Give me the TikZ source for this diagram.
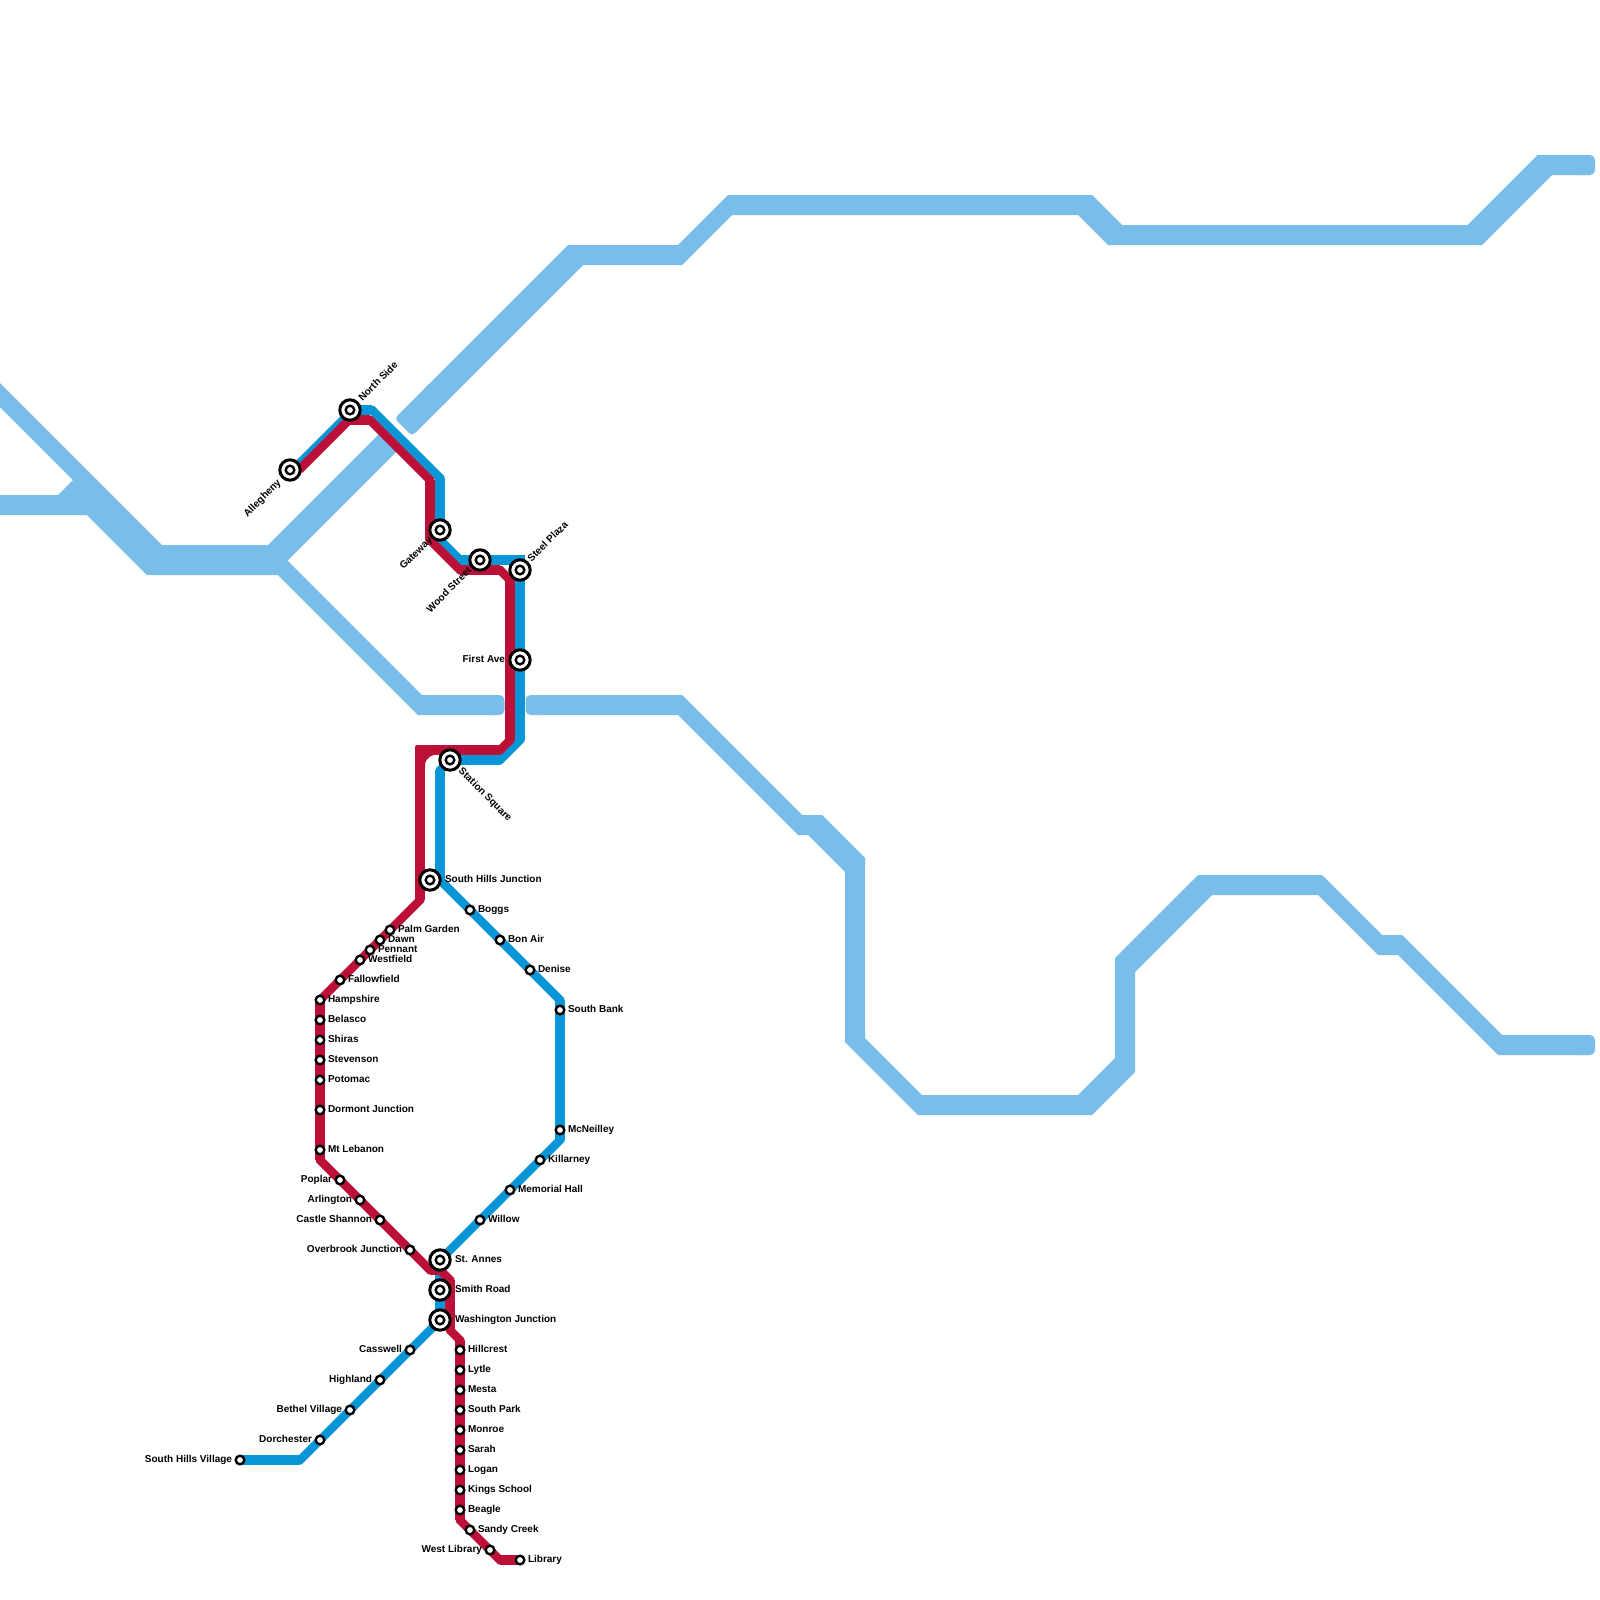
\documentclass[tikz,border=0pt]{standalone}
\usepackage{fontspec}
\setmainfont{Liberation Sans}
\definecolor{riverc}{HTML}{79BDE9}
\definecolor{mapblue}{HTML}{0896D7}
\definecolor{mapred}{HTML}{BD1038}
\pgfdeclarelayer{bg}
\pgfsetlayers{bg,main}
\tikzset{
  stn/.style={circle,draw=black,fill=white,line width=2.4pt,minimum size=8.6pt,inner sep=0pt,outer sep=0pt},
  bigstn/.style={circle,draw=black,fill=white,line width=3pt,minimum size=20.4pt,inner sep=0pt,outer sep=0pt,
    path picture={\draw[black,line width=2.4pt] (path picture bounding box.center) circle (4.3pt);}},
  lbl/.style={font=\bfseries\fontsize{10}{12}\selectfont,text=black,inner sep=0pt,outer sep=0pt},
  lblr/.style={lbl,anchor=base west},
  lbll/.style={lbl,anchor=base east},
  rivfill/.style={fill=riverc},
  bluedg/.style={draw=mapblue,line width=8.5pt,line join=miter,line cap=butt},
  bluehv/.style={draw=mapblue,line width=10pt,line join=miter,line cap=butt},
  reddg/.style={draw=mapred,line width=8.5pt,line join=miter,line cap=butt},
  redhv/.style={draw=mapred,line width=10pt,line join=miter,line cap=butt},
}
\begin{document}
\begin{tikzpicture}[x=1pt,y=-1pt]
\useasboundingbox (0,0) rectangle (1600,1600);

% interchange stations
\node[bigstn] (allegheny) at (290,470) {};
\node[bigstn] (northside) at (350,410) {};
\node[bigstn] (gateway) at (440,530) {};
\node[bigstn] (woodstreet) at (480,560) {};
\node[bigstn] (steelplaza) at (520,570) {};
\node[bigstn] (firstave) at (520,660) {};
\node[bigstn] (stationsquare) at (450,760) {};
\foreach \n/\x/\y/\t in {southhills/430/880/South Hills Junction,stannes/440/1260/St. Annes,smithroad/440/1290/Smith Road,washington/440/1320/Washington Junction}{
  \node[bigstn] (\n) at (\x,\y) {};
  \node[lblr] (\n-l) at (\x+15,\y+2.3) {\t};
}
\node[lbll] (firstave-l) at (505,662.3) {First Ave};
\node[lbl,rotate=45,anchor=east] (allegheny-l) at (279.5,481.5) {Allegheny};
\node[lbl,rotate=45,anchor=west] (northside-l) at (360,399) {North Side};
\node[lbl,rotate=45,anchor=east] (gateway-l) at (431,539) {Gateway};
\node[lbl,rotate=45,anchor=east] (woodstreet-l) at (469.5,569) {Wood Street};
\node[lbl,rotate=45,anchor=west] (steelplaza-l) at (529,560) {Steel Plaza};
\node[lbl,rotate=-45,anchor=west] (stationsquare-l) at (460,770) {Station Square};

% small stations, label to the right
\foreach \n/\x/\y/\t in {boggs/470/910/Boggs,bonair/500/940/Bon Air,denise/530/970/Denise,southbank/560/1010/South Bank,
  mcneilley/560/1130/McNeilley,killarney/540/1160/Killarney,memorial/510/1190/Memorial Hall,willow/480/1220/Willow,
  palmgarden/390/930/Palm Garden,dawn/380/940/Dawn,pennant/370/950/Pennant,westfield/360/960/Westfield,fallowfield/340/980/Fallowfield,
  hampshire/320/1000/Hampshire,belasco/320/1020/Belasco,shiras/320/1040/Shiras,stevenson/320/1060/Stevenson,potomac/320/1080/Potomac,
  dormont/320/1110/Dormont Junction,mtlebanon/320/1150/Mt Lebanon,
  hillcrest/460/1350/Hillcrest,lytle/460/1370/Lytle,mesta/460/1390/Mesta,southpark/460/1410/South Park,monroe/460/1430/Monroe,
  sarah/460/1450/Sarah,logan/460/1470/Logan,kings/460/1490/Kings School,beagle/460/1510/Beagle,sandy/470/1530/Sandy Creek,library/520/1560/Library}{
  \node[stn] (\n) at (\x,\y) {};
  \node[lblr] (\n-l) at (\x+8,\y+2.3) {\t};
}
% small stations, label to the left
\foreach \n/\x/\y/\t in {poplar/340/1180/Poplar,arlington/360/1200/Arlington,castle/380/1220/Castle Shannon,overbrook/410/1250/Overbrook Junction,
  casswell/410/1350/Casswell,highland/380/1380/Highland,bethel/350/1410/Bethel Village,dorchester/320/1440/Dorchester,
  shv/240/1460/South Hills Village,westlibrary/490/1550/West Library}{
  \node[stn] (\n) at (\x,\y) {};
  \node[lbll] (\n-l) at (\x-8,\y+2.3) {\t};
}

% bends of the two lines
\foreach \n/\x/\y in {b0/293/470,b1/353/410,b2/372/410,b3/440/478,b4/440/540,b5/460/560,b6/520/560,b7/520/740,b8/500/760,b10/440/770,b11/440/880,b12/560/1000,b13/560/1140,b16/300/1460,
  r0/299/470,r1/349/420,r2/370/420,r3/430/480,r4/430/540,r5/460/570,r6/500/570,r7/510/580,r8/510/740,r9/500/750,r10/432/750,r11/420/765,r12/420/900,r14/320/1160,r15/430/1270,r16/440/1270,r17/450/1280,r18/450/1330,r19/460/1340,r20/460/1520,r21/500/1560}
  {\coordinate (\n) at (\x,\y);}

\begin{pgfonlayer}{bg}
\fill[white] (0,0) rectangle (1600,1600);
% ---- river: west part with its two arms up to the lines
\fill[rivfill] (-20,363) -- (162,545) -- (268,545) -- (384,429) -- (401.5,446.5) -- (287.5,560.5)
  -- (422,695) -- (495,695) -- (495,715) -- (418,715) -- (278,575) -- (147,575) -- (87,515)
  -- (-5,515) -- (-5,495) -- (58,495) -- (73,480) -- (-27,380) -- cycle;
\fill[riverc,rounded corners=5pt] (485,695) rectangle (504.5,715);
% ---- river: north-east part
\fill[riverc,rounded corners=4pt] (394.5,418.5) -- (412,436) -- (449,399) -- (431.5,381.5) -- cycle;
\fill[rivfill] (425,388) -- (568,245) -- (678,245) -- (728,195) -- (1092,195) -- (1122,225) -- (1467.5,225)
  -- (1537.5,155) -- (1585,155) -- (1585,175) -- (1552,175) -- (1482,245) -- (1108,245) -- (1078,215)
  -- (732,215) -- (682,265) -- (583,265) -- (443,405) -- cycle;
\fill[riverc,rounded corners=5pt] (1570,155) rectangle (1595,175);
% ---- river: east part beyond the gap
\fill[riverc,rounded corners=5pt] (525.5,695) rectangle (545,715);
\fill[rivfill] (535,695) -- (682,695) -- (802,815) -- (822,815) -- (865,858) -- (865,1038) -- (922,1095)
  -- (1078,1095) -- (1115,1058) -- (1115,958) -- (1198,875) -- (1322,875) -- (1382,935) -- (1402,935)
  -- (1502,1035) -- (1585,1035) -- (1585,1055) -- (1498,1055) -- (1398,955) -- (1378,955) -- (1318,895)
  -- (1212,895) -- (1135,972) -- (1135,1072) -- (1092,1115) -- (918,1115) -- (845,1042) -- (845,872)
  -- (808,835) -- (798,835) -- (678,715) -- (535,715) -- cycle;
\fill[riverc,rounded corners=5pt] (1570,1035) rectangle (1595,1055);

% ---- blue line
\path[bluedg] (b0) -- (b1) -- (b2) -- (b3) -- (b4) -- (b5) -- (b6) -- (firstave.center) -- (b7) -- (b8) -- (stationsquare.center) -- (b10) -- (b11) -- (boggs.center) -- (bonair.center) -- (denise.center) -- (b12) -- (southbank.center) -- (mcneilley.center) -- (b13) -- (killarney.center) -- (memorial.center) -- (willow.center) -- (stannes.center) -- (smithroad.center) -- (washington.center) -- (casswell.center) -- (highland.center) -- (bethel.center) -- (dorchester.center) -- (b16) -- (shv.center);
\path[bluehv] (b1) -- (b2) (b3) -- (b4) (b5) -- (b6) -- (b7) (b8) -- (stationsquare.center) (b10) -- (b11) (b12) -- (b13) (stannes.center) -- (washington.center) (b16) -- (shv.center);

% ---- red line
\path[reddg] (r0) -- (r1) -- (r2) -- (r3) -- (r4) -- (r5) -- (r6) -- (r7) -- (r8) -- (r9) -- (r10);
\path[reddg] (r11) -- (r12) -- (palmgarden.center) -- (dawn.center) -- (pennant.center) -- (westfield.center) -- (fallowfield.center) -- (hampshire.center) -- (r14) -- (poplar.center) -- (arlington.center) -- (castle.center) -- (overbrook.center) -- (r15) -- (r16) -- (r17) -- (r18) -- (r19) -- (r20) -- (sandy.center) -- (westlibrary.center) -- (r21) -- (library.center);
\path[redhv] (r1) -- (r2) (r3) -- (r4) (r5) -- (r6) (r7) -- (r8) (r9) -- (r10) (r11) -- (r12) (hampshire.center) -- (r14) (r15) -- (r16) (r17) -- (r18) (r19) -- (r20) (r21) -- (library.center);
\fill[mapred,rounded corners=2pt] (415,745) -- (433,745) -- (433,755) -- (431.7,755) -- (425,761.7) -- (425,770) -- (415,770) -- cycle;
\end{pgfonlayer}
\end{tikzpicture}
\end{document}
